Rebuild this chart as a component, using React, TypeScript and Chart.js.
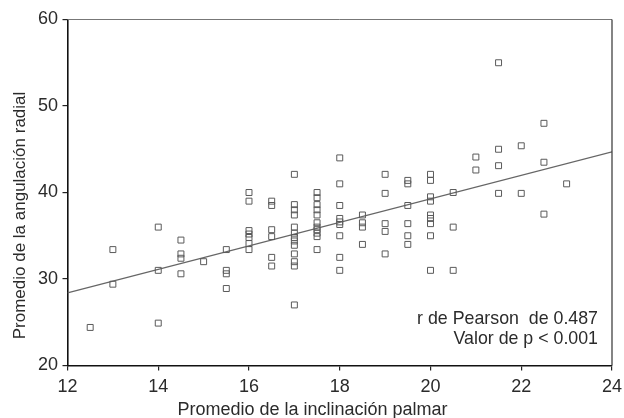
import React, { useEffect, useRef } from "react";
import { Chart, registerables } from "chart.js";

Chart.register(...registerables);

// Promedio de la inclinación palmar (x)
const inclinacionPalmar = [
  12.5,
  13, 13,
  14, 14, 14,
  14.5, 14.5, 14.5, 14.5,
  15,
  15.5, 15.5, 15.5, 15.5,
  16, 16, 16, 16, 16, 16, 16,
  16.5, 16.5, 16.5, 16.5, 16.5, 16.5,
  17, 17, 17, 17, 17, 17, 17, 17, 17, 17, 17, 17, 17,
  17.5, 17.5, 17.5, 17.5, 17.5, 17.5, 17.5, 17.5, 17.5, 17.5, 17.5,
  18, 18, 18, 18, 18, 18, 18, 18, 18,
  18.5, 18.5, 18.5, 18.5,
  19, 19, 19, 19, 19,
  19.5, 19.5, 19.5, 19.5, 19.5, 19.5,
  20, 20, 20, 20, 20, 20, 20, 20, 20,
  20.5, 20.5, 20.5,
  21, 21,
  21.5, 21.5, 21.5, 21.5,
  22, 22,
  22.5, 22.5, 22.5,
  23,
];

// Promedio de la angulación radial (y)
const angulacionRadial = [
  24.4,
  33.4, 29.4,
  36, 31, 24.9,
  34.5, 32.9, 32.4, 30.6,
  32,
  33.4, 31, 30.6, 28.9,
  40, 39, 35.6, 35.2, 34.8, 34.1, 33.4,
  39, 38.5, 35.7, 34.9, 32.5, 31.5,
  42.1, 38.6, 38, 37.4, 36, 35.3, 34.8, 34.4, 33.9, 32.9, 32, 31.5, 27,
  40, 39.4, 38.6, 38, 37.4, 36.5, 36, 35.7, 35.3, 34.9, 33.4,
  44, 41, 38.5, 37, 36.6, 36.3, 35, 32.5, 31,
  37.4, 36.5, 36, 34,
  42.1, 39.9, 36.4, 35.5, 32.9,
  41.4, 41, 38.5, 36.4, 35, 34,
  42.1, 41.4, 39.5, 39, 37.4, 37, 36.4, 35, 31,
  40, 36, 31,
  44.1, 42.6,
  55, 45, 43.1, 39.9,
  45.4, 39.9,
  48, 43.5, 37.5,
  41,
];

// Regression line endpoints
const lineaX = [12, 24];
const lineaY = [28.4, 44.7];

const xTicks = [12, 14, 16, 18, 20, 22, 24];
const yTicks = [20, 30, 40, 50, 60];

const xTitle = "Promedio de la inclinación palmar";
const yTitle = "Promedio de la angulación radial";
const anotaciones = ["r de Pearson  de 0.487", "Valor de p < 0.001"];

const FONT = "'Liberation Sans', Arial, Helvetica, sans-serif";
const TEXT = "#2b2b2b";

export default function App() {
  const ref = useRef<HTMLCanvasElement | null>(null);

  useEffect(() => {
    if (!ref.current) return;
    const boxPlugin = {
      id: "boxAndNotes",
      afterDatasetsDraw(chart: any) {
        const { ctx, chartArea } = chart;
        ctx.save();
        ctx.lineWidth = 1;
        ctx.strokeStyle = "#777";
        ctx.beginPath();
        ctx.moveTo(chartArea.left, chartArea.top);
        ctx.lineTo(chartArea.right, chartArea.top);
        ctx.stroke();
        ctx.strokeStyle = "#333";
        ctx.lineWidth = 1.2;
        ctx.beginPath();
        ctx.moveTo(chartArea.right, chartArea.top);
        ctx.lineTo(chartArea.right, chartArea.bottom);
        ctx.stroke();
        ctx.fillStyle = TEXT;
        ctx.font = `17.8px ${FONT}`;
        ctx.textAlign = "right";
        ctx.textBaseline = "middle";
        anotaciones.forEach((t, i) => {
          ctx.fillText(t, chartArea.right - 14, chartArea.bottom - 46 + i * 20);
        });
        ctx.restore();
      },
      afterDraw(chart: any) {
        const { ctx, chartArea, height } = chart;
        ctx.save();
        ctx.fillStyle = TEXT;
        // x title
        ctx.font = `18px ${FONT}`;
        ctx.textAlign = "center";
        ctx.textBaseline = "alphabetic";
        ctx.fillText(xTitle, chartArea.left + 245, height - 3);
        // y title
        ctx.font = `17px ${FONT}`;
        ctx.translate(24.5, chartArea.top + 196);
        ctx.rotate(-Math.PI / 2);
        ctx.fillText(yTitle, 0, 0);
        ctx.restore();
      },
    };

    const chart = new Chart(ref.current, {
      type: "scatter",
      data: {
        datasets: [
          {
            label: "datos",
            data: inclinacionPalmar.map((x, i) => ({ x, y: angulacionRadial[i] })),
            pointStyle: "rect",
            pointRadius: 4.2,
            pointBorderWidth: 1,
            borderColor: "#5a5a5a",
            backgroundColor: "rgba(0,0,0,0)",
            pointBackgroundColor: "rgba(0,0,0,0)",
            order: 1,
          },
          {
            type: "line",
            label: "ajuste",
            data: lineaX.map((x, i) => ({ x, y: lineaY[i] })),
            borderColor: "#666",
            borderWidth: 1.2,
            pointRadius: 0,
            showLine: true,
            fill: false,
            order: 2,
          } as any,
        ],
      },
      options: {
        responsive: false,
        animation: false,
        layout: { padding: { left: 0, top: 19.5, right: 12, bottom: 0 } },
        plugins: {
          legend: { display: false },
          tooltip: { enabled: false },
        },
        scales: {
          x: {
            type: "linear",
            min: 12,
            max: 24,
            afterBuildTicks: (s: any) => {
              s.ticks = xTicks.map((v) => ({ value: v }));
            },
            afterFit: (s: any) => {
              s.height = 52.5;
              s.paddingLeft = 0;
              s.paddingRight = 0;
            },
            ticks: {
              color: TEXT,
              font: { family: FONT, size: 18 },
              padding: 6,
              maxRotation: 0,
            },
            grid: {
              display: true,
              drawOnChartArea: false,
              drawTicks: true,
              tickLength: 5,
              color: "#222",
              lineWidth: 1.2,
            },
            border: { display: true, color: "#111", width: 1.6 },
            title: { display: false },
          },
          y: {
            type: "linear",
            min: 20,
            max: 60,
            afterBuildTicks: (s: any) => {
              s.ticks = yTicks.map((v) => ({ value: v }));
            },
            afterFit: (s: any) => {
              s.width = 67.5;
              s.paddingTop = 0;
              s.paddingBottom = 0;
            },
            ticks: {
              color: TEXT,
              font: { family: FONT, size: 18 },
              padding: 4.5,
            },
            grid: {
              display: true,
              drawOnChartArea: false,
              drawTicks: true,
              tickLength: 5,
              color: "#222",
              lineWidth: 1.2,
            },
            border: { display: true, color: "#111", width: 1.6 },
            title: { display: false },
          },
        },
      },
      plugins: [boxPlugin],
    });
    return () => chart.destroy();
  }, []);

  return (
    <div style={{ position: "fixed", left: 0, top: 0, width: 624, height: 418, background: "#fff" }}>
      <canvas ref={ref} width={624} height={418} style={{ display: "block" }} />
    </div>
  );
}
